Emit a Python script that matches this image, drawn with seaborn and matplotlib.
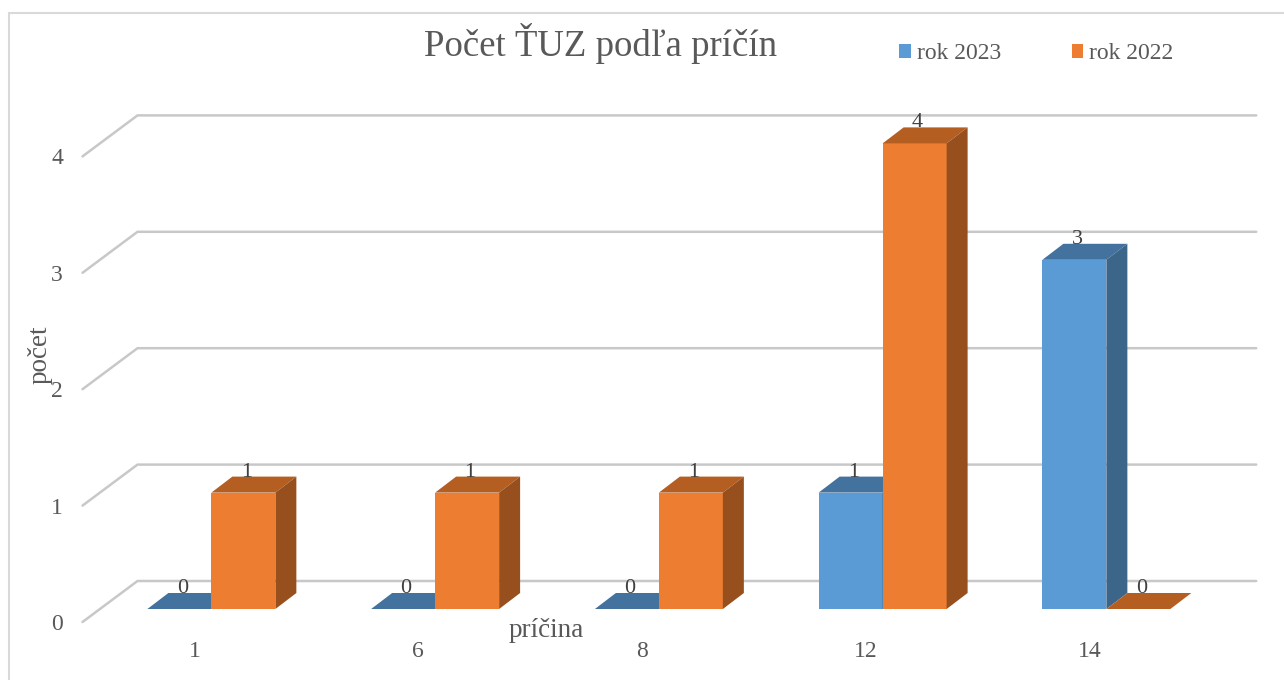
import numpy as np
import pandas as pd
import matplotlib
matplotlib.use('Agg')
import matplotlib.pyplot as plt
import matplotlib.transforms as mtransforms
from matplotlib.patches import Polygon, Rectangle
import seaborn as sns

# values
causes = ['1', '6', '8', '12', '14']
years = ['rok 2023', 'rok 2022']
count_2023 = [0, 0, 0, 1, 3]
count_2022 = [1, 1, 1, 4, 0]
yticks = [0, 1, 2, 3, 4]

front_colors = {'rok 2023': '#5B9BD5', 'rok 2022': '#ED7D31'}
top_colors = {'rok 2023': '#44729E', 'rok 2022': '#B55E22'}
side_colors = {'rok 2023': '#3B6589', 'rok 2022': '#97501D'}
text_color = '#595959'
grid_color = '#C8C8C8'

# fake 3d look, offsets in pixels
BAR_SHIFT = np.array([17, 13])   # bar fronts sit behind the floor's front edge
BAR_DEPTH = np.array([21, 16])
WALL_SHIFT = np.array([55, 41])

df = pd.DataFrame({
    'príčina': causes * 2,
    'počet': count_2023 + count_2022,
    'rok': [years[0]] * len(causes) + [years[1]] * len(causes),
})

sns.set_theme(style='white')
plt.rcParams['font.family'] = ['Liberation Serif', 'DejaVu Serif']

fig = plt.figure(figsize=(12.84, 6.8), dpi=100)
ax = fig.add_axes([0.06425, 0.08529, 0.87130, 0.68471])

sns.barplot(data=df, x='príčina', y='počet', hue='rok', order=causes, hue_order=years,
            palette=[front_colors[y] for y in years], saturation=1, width=0.572,
            linewidth=0, ax=ax)
ax.set_xlim(-0.5, len(causes) - 0.5)
ax.set_ylim(0, max(yticks))
ax.set_autoscale_on(False)
sns.despine(ax=ax, left=True, bottom=True)
ax.grid(False)

ident = mtransforms.IdentityTransform()


def shifted(d):
    return ax.transData + mtransforms.Affine2D().translate(d[0], d[1])


# back wall gridlines with the diagonal on the left side wall
xmin, xmax = ax.get_xlim()
for v in yticks:
    p = ax.transData.transform((xmin, v))
    q = ax.transData.transform((xmax, v))
    ax.plot([p[0], p[0] + WALL_SHIFT[0], q[0] + WALL_SHIFT[0]],
            [p[1], p[1] + WALL_SHIFT[1], q[1] + WALL_SHIFT[1]],
            transform=ident, color=grid_color, lw=1.8, zorder=0.5, clip_on=False)

# give each bar a top and a side face
for i, (container, year) in enumerate(zip(ax.containers, years)):
    z = 2 + i
    for bar in container:
        bar.set_transform(shifted(BAR_SHIFT))
        bar.set_zorder(z)
        bar.set_clip_on(False)
        bx0, bx1 = bar.get_x(), bar.get_x() + bar.get_width()
        h = bar.get_height()
        x0, y0 = ax.transData.transform((bx0, 0)) + BAR_SHIFT
        x1, y1 = ax.transData.transform((bx1, h)) + BAR_SHIFT
        dx, dy = BAR_DEPTH
        top = [(x0, y1), (x1, y1), (x1 + dx, y1 + dy), (x0 + dx, y1 + dy)]
        ax.add_patch(Polygon(top, closed=True, transform=ident, facecolor=top_colors[year],
                             edgecolor='none', zorder=z, clip_on=False))
        if h > 0:
            side = [(x1, y0), (x1, y1), (x1 + dx, y1 + dy), (x1 + dx, y0 + dy)]
            ax.add_patch(Polygon(side, closed=True, transform=ident,
                                 facecolor=side_colors[year], edgecolor='none',
                                 zorder=z, clip_on=False))
        ax.text(bar.get_x() + bar.get_width() / 2, h, f'{h:g}',
                transform=shifted(BAR_SHIFT + np.array([3, BAR_DEPTH[1]])),
                ha='center', va='baseline', fontsize=16, color='#404040',
                zorder=10, clip_on=False)

ax.set_yticks(yticks)
ax.tick_params(axis='both', length=0, labelsize=17, labelcolor=text_color)
ax.tick_params(axis='x', pad=14)
ax.tick_params(axis='y', pad=14)

ax.set_title('Počet ŤUZ podľa príčín', x=0.4626, y=1.2156, va='baseline', pad=0,
             fontsize=26.5, color=text_color)
ax.set_xlabel('príčina', fontsize=19.5, color=text_color)
ax.xaxis.set_label_coords(0.4148, -0.0322)
ax.xaxis.label.set_va('baseline')
ax.set_ylabel('počet', fontsize=19.5, color=text_color)
ax.yaxis.set_label_coords(-0.038, 0.5735)
ax.yaxis.label.set_va('center')

sns.move_legend(ax, 'center', bbox_to_anchor=(0.807, 0.921),
                bbox_transform=fig.transFigure, ncol=2, frameon=False, title=None,
                fontsize=17, labelcolor=text_color, handlelength=0.5, handleheight=0.5,
                handletextpad=0.25, columnspacing=3.0)

# light frame around the chart area
fig.add_artist(Rectangle((9 / 1284, -0.5), 2, 1.5 - 13 / 680, transform=fig.transFigure,
                         fill=False, edgecolor='#D9D9D9', lw=1.5))

fig.savefig('out.png', dpi=100)
